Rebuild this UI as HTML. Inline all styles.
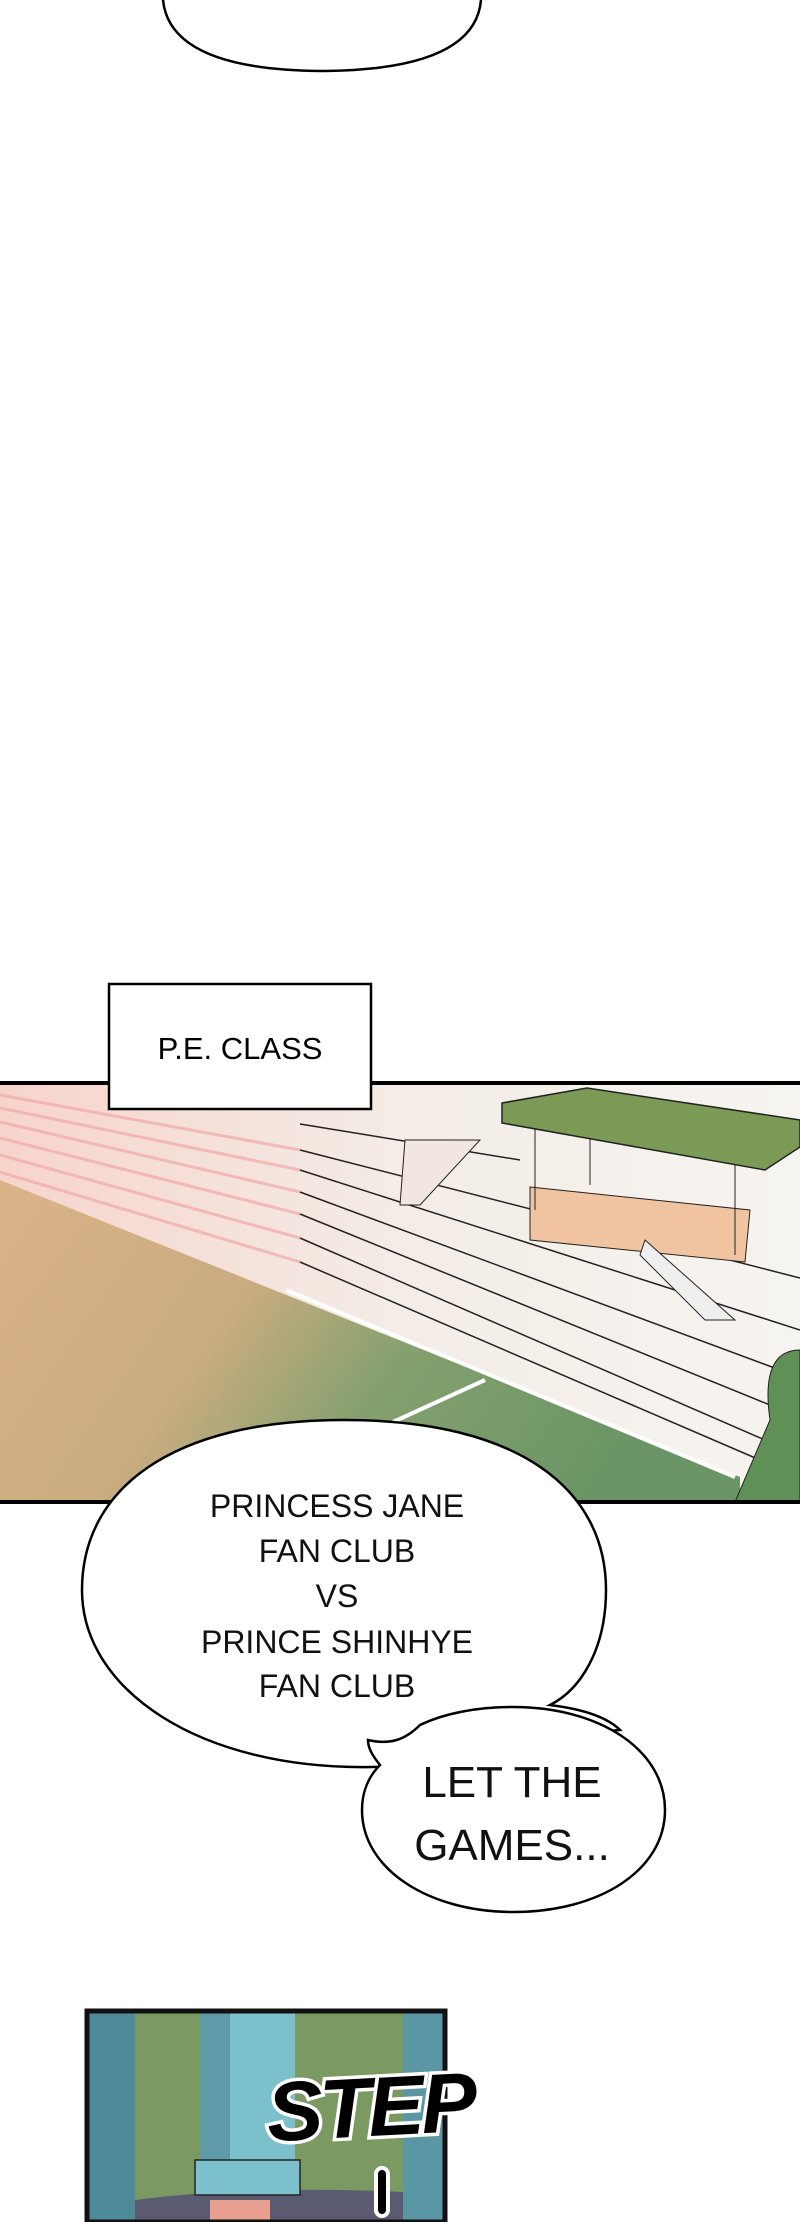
<!DOCTYPE html>
<html><head><meta charset="utf-8"><style>
html,body{margin:0;padding:0;background:#fff;}
body{width:800px;height:2222px;overflow:hidden;position:relative;}
svg{position:absolute;left:0;top:0;}
</style></head><body>
<svg width="800" height="2222" viewBox="0 0 800 2222" xmlns="http://www.w3.org/2000/svg">
<defs>
<linearGradient id="fld" x1="0" y1="0" x2="1" y2="0.3">
<stop offset="0" stop-color="#dcb388"/><stop offset="0.4" stop-color="#c9ac80"/><stop offset="0.65" stop-color="#84a06e"/><stop offset="1" stop-color="#6b9566"/>
</linearGradient>
<linearGradient id="stand" x1="0" y1="0" x2="1" y2="0">
<stop offset="0" stop-color="#f6d4cc"/><stop offset="0.5" stop-color="#f4ece6"/><stop offset="1" stop-color="#f6f4f0"/>
</linearGradient>
</defs>
<path d="M163,0 Q170,70 322,71 Q475,70 481,0" fill="#fff" stroke="#000" stroke-width="2.5"/>
<rect x="0" y="1083" width="800" height="419" fill="url(#stand)"/>
<polygon points="0,1180 740,1477 740,1502 0,1502" fill="url(#fld)"/>
<g stroke="#f2a8a8" stroke-width="3" opacity="0.7">
<line x1="0" y1="1095" x2="300" y2="1150"/><line x1="0" y1="1108" x2="300" y2="1170"/>
<line x1="0" y1="1122" x2="300" y2="1192"/><line x1="0" y1="1138" x2="300" y2="1214"/>
<line x1="0" y1="1155" x2="300" y2="1238"/><line x1="0" y1="1172" x2="300" y2="1262"/>
</g>
<g stroke="#222" stroke-width="1.5" fill="none">
<line x1="300" y1="1124" x2="520" y2="1160"/>
<line x1="300" y1="1150" x2="800" y2="1278"/>
<line x1="300" y1="1170" x2="800" y2="1330"/>
<line x1="300" y1="1192" x2="780" y2="1370"/>
<line x1="300" y1="1214" x2="770" y2="1405"/>
<line x1="300" y1="1238" x2="765" y2="1440"/>
<line x1="300" y1="1262" x2="760" y2="1460"/>
</g>
<line x1="286" y1="1290" x2="735" y2="1477" stroke="#fff" stroke-width="4"/>
<line x1="485" y1="1380" x2="393" y2="1422" stroke="#fff" stroke-width="4"/>
<polygon points="530,1187 750,1210 745,1262 530,1240" fill="#f0c4a0" stroke="#222" stroke-width="1"/>
<g stroke="#222" stroke-width="1">
<line x1="535" y1="1123" x2="535" y2="1210"/><line x1="590" y1="1130" x2="590" y2="1185"/>
<line x1="735" y1="1165" x2="735" y2="1255"/>
</g>
<polygon points="502,1103 587,1088 800,1120 800,1147 765,1170 502,1123" fill="#7a9a56" stroke="#222" stroke-width="1.5"/>
<polygon points="405,1140 480,1140 420,1205 400,1205" fill="#f2e6e0" stroke="#222" stroke-width="1"/>
<path d="M645,1240 L735,1320 L705,1320 L640,1255Z" fill="#eee" stroke="#222" stroke-width="1"/>
<path d="M770,1420 Q760,1350 800,1350 L800,1502 L735,1502Z" fill="#5f9056" stroke="#222" stroke-width="1"/>
<line x1="0" y1="1083" x2="800" y2="1083" stroke="#000" stroke-width="4"/>
<line x1="0" y1="1502" x2="800" y2="1502" stroke="#000" stroke-width="4"/>
<rect x="109" y="984" width="262" height="125" fill="#fff" stroke="#000" stroke-width="2.5"/>
<text x="240" y="1059" text-anchor="middle" font-family="Liberation Sans, sans-serif" font-size="31">P.E. CLASS</text>
<path d="M344,1420 C520,1420 606,1490 606,1590 C606,1650 580,1690 550,1705 C590,1710 610,1720 620,1730 L560,1735 C520,1750 470,1765 372,1767 C200,1770 82,1690 82,1590 C82,1490 170,1420 344,1420Z" fill="#fff" stroke="#000" stroke-width="2.5"/>
<g font-family="Liberation Sans, sans-serif" font-size="32" text-anchor="middle" fill="#111">
<text x="337" y="1517">PRINCESS JANE</text>
<text x="337" y="1562">FAN CLUB</text>
<text x="337" y="1607">VS</text>
<text x="337" y="1653">PRINCE SHINHYE</text>
<text x="337" y="1697">FAN CLUB</text>
</g>
<path d="M513,1707 C600,1707 665,1750 665,1810 C665,1870 600,1912 513,1912 C430,1912 362,1870 362,1810 C362,1790 370,1775 380,1765 C372,1755 368,1748 368,1740 C390,1745 405,1740 420,1725 C445,1713 478,1707 513,1707Z" fill="#fff" stroke="#000" stroke-width="2.5"/>
<g font-family="Liberation Sans, sans-serif" font-size="44" text-anchor="middle" fill="#111">
<text x="512" y="1797">LET THE</text>
<text x="512" y="1860">GAMES...</text>
</g>
<rect x="87" y="2011" width="358" height="211" fill="#7a9a62"/>
<rect x="87" y="2011" width="48" height="211" fill="#4e8a98"/>
<rect x="200" y="2011" width="95" height="170" fill="#7cc0cc"/>
<rect x="200" y="2011" width="30" height="170" fill="#5e9aa8"/>
<rect x="403" y="2011" width="42" height="211" fill="#5a96a4"/>
<path d="M135,2200 Q250,2185 403,2192 L403,2222 L135,2222Z" fill="#5a5a70"/>
<rect x="195" y="2160" width="105" height="35" fill="#7cc0cc" stroke="#222" stroke-width="1.5"/>
<rect x="210" y="2200" width="60" height="22" fill="#e8a090"/>
<rect x="87" y="2011" width="358" height="211" fill="none" stroke="#111" stroke-width="5"/>
<text x="370" y="2136" text-anchor="middle" font-family="Liberation Sans, sans-serif" font-weight="bold" font-style="italic" font-size="84" fill="#000" stroke="#fff" stroke-width="7" paint-order="stroke" transform="rotate(-3 370 2100)" letter-spacing="-3">STEP</text>
<rect x="376" y="2168" width="12" height="48" rx="6" fill="#000" stroke="#fff" stroke-width="4"/>
</svg>
</body></html>
